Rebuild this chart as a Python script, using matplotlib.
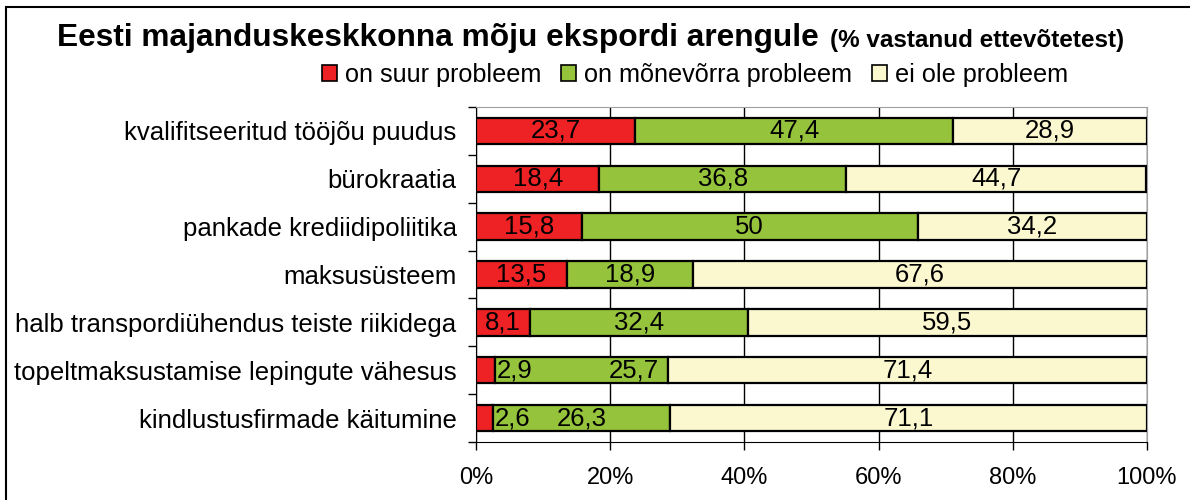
import matplotlib
matplotlib.use('Agg')
import matplotlib.pyplot as plt
from matplotlib.patches import Rectangle, Patch
import numpy as np

plt.rcParams['font.family'] = ['Liberation Sans', 'DejaVu Sans']

# data
categories = ['kvalifitseeritud tööjõu puudus', 'bürokraatia', 'pankade krediidipoliitika',
              'maksusüsteem', 'halb transpordiühendus teiste riikidega',
              'topeltmaksustamise lepingute vähesus', 'kindlustusfirmade käitumine']
suur = [23.7, 18.4, 15.8, 13.5, 8.1, 2.9, 2.6]
monevorra = [47.4, 36.8, 50, 18.9, 32.4, 25.7, 26.3]
ei_ole = [28.9, 44.7, 34.2, 67.6, 59.5, 71.4, 71.1]
series_names = ['on suur probleem', 'on mõnevõrra probleem', 'ei ole probleem']
colors = ['#EE2224', '#96C33C', '#FBF8D0']

fig = plt.figure(figsize=(11.9, 5.0), dpi=100)
ax = fig.add_axes([476 / 1190, 1 - 442 / 500, (1147 - 476) / 1190, (442 - 107) / 500])

y = np.arange(len(categories))
left = np.zeros(len(categories))
fs = 18.5
for vals, col, name in zip([suur, monevorra, ei_ole], colors, series_names):
    vals = np.array(vals, dtype=float)
    ax.barh(y, vals, left=left, height=0.55, color=col, edgecolor='black',
            linewidth=1.6, label=name, zorder=3)
    for i, v in enumerate(vals):
        txt = ('%g' % v).replace('.', ',')
        if v < 5:
            # too narrow: label sits just right of the segment
            ax.text(left[i] + v + 0.2, i, txt, ha='left', va='center', fontsize=fs, zorder=4)
        elif name == series_names[1] and i == 5:
            ax.text(left[i] + v - 1.4, i, txt, ha='right', va='center', fontsize=fs, zorder=4)
        else:
            ax.text(left[i] + v / 2, i, txt, ha='center', va='center', fontsize=fs, zorder=4)
    left = left + vals

ax.set_xlim(0, 100)
ax.set_ylim(len(categories) - 0.5, -0.5)
ax.set_xticks(np.arange(0, 101, 20))
ax.set_xticklabels(['%d%%' % t for t in range(0, 101, 20)], fontsize=17)
ax.set_yticks(y)
ax.set_yticklabels(categories, fontsize=18.5)
ax.set_yticks(np.arange(-0.5, len(categories), 1), minor=True)
ax.tick_params(axis='y', which='major', length=0, pad=14)
ax.tick_params(axis='y', which='minor', length=6, width=1, color='black')
ax.tick_params(axis='x', length=6, width=1, pad=12)
ax.grid(axis='x', color='black', linewidth=1, zorder=0)
for s in ['top', 'right']:
    ax.spines[s].set_color('#A0A0A0')
for s in ['left', 'bottom']:
    ax.spines[s].set_color('black')

fig.text(57 / 1190, 1 - 38 / 500, 'Eesti majanduskeskkonna mõju ekspordi arengule',
         fontsize=22.8, fontweight='bold', ha='left', va='center')
fig.text(830 / 1190, 1 - 40 / 500, '(% vastanud ettevõtetest)',
         fontsize=17.5, fontweight='bold', ha='left', va='center')

handles = [Patch(facecolor=c, edgecolor='black', linewidth=1.2) for c in colors]
fig.legend(handles, series_names, ncol=3, loc='center', bbox_to_anchor=(695 / 1190, 1 - 75 / 500),
           frameon=False, fontsize=18.2, handlelength=0.6, handleheight=0.6,
           handletextpad=0.3, columnspacing=0.8, borderpad=0)

fig.patches.append(Rectangle((6 / 1190, -0.1), 1.1, 1.1 - 7.5 / 500, transform=fig.transFigure,
                             fill=False, edgecolor='black', linewidth=1.5))

fig.savefig('out.png', dpi=100)
